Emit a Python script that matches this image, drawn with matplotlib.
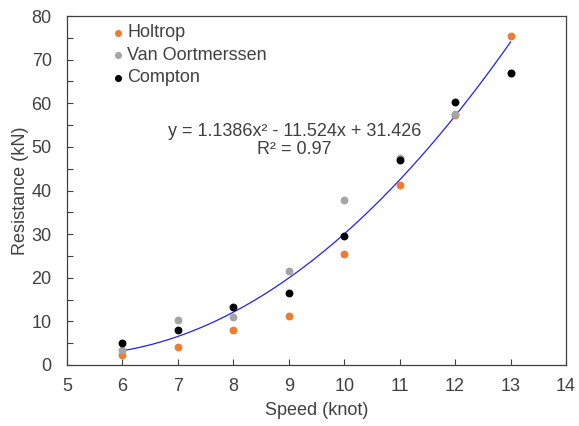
import numpy as np
import matplotlib
matplotlib.use("Agg")
import matplotlib.pyplot as plt

plt.rcParams['font.family'] = ['Liberation Sans', 'DejaVu Sans']

speed = [6, 7, 8, 9, 10, 11, 12, 13]
holtrop = [2.3, 4.1, 8.0, 11.2, 25.4, 41.3, 57.3, 75.4]
van_oortmerssen = [3.5, 10.3, 11.0, 21.5, 37.8, 47.5, 57.6, 67.0]
compton = [5.0, 8.0, 13.3, 16.5, 29.6, 47.0, 60.3, 67.0]
fit_coef = [1.1386, -11.524, 31.426]
fit_text = "y = 1.1386x² - 11.524x + 31.426\nR² = 0.97"

TXT = '#404040'
FS = 13

fig = plt.figure(figsize=(5.79, 4.26), dpi=100)
ax = fig.add_axes([0.1157, 0.1432, 0.8618, 0.8192])

ax.scatter(speed, holtrop, s=32, color='#ED7D31', label='Holtrop', zorder=3, linewidths=0)
ax.scatter(speed, van_oortmerssen, s=32, color='#A5A5A5', label='Van Oortmerssen', zorder=3, linewidths=0)
ax.scatter(speed, compton, s=32, color='#000000', label='Compton', zorder=4, linewidths=0)

xs = np.linspace(min(speed), max(speed), 200)
ax.plot(xs, np.polyval(fit_coef, xs), color='#1F1FFF', lw=0.9, zorder=2)

ax.set_xlim(5, 14)
ax.set_ylim(0, 80)
ax.set_xticks(range(5, 15))
ax.set_yticks(range(0, 81, 10))
ax.set_yticks(range(5, 80, 10), minor=True)
ax.tick_params(direction='in', which='both', labelsize=FS, length=4, width=0.8, color='#404040', labelcolor=TXT)
ax.tick_params(axis='x', pad=9.5)
ax.tick_params(axis='y', pad=11)
for s in ax.spines.values():
    s.set_color('#404040')
    s.set_linewidth(0.9)

ax.set_xlabel('Speed (knot)', fontsize=FS, color=TXT, labelpad=5)
ax.set_ylabel('Resistance (kN)', fontsize=FS, color=TXT, labelpad=1.5)

ax.text(9.10, 51.5, fit_text, ha='center', va='center', fontsize=FS, color=TXT, linespacing=1.05)

leg = ax.legend(loc='upper left', bbox_to_anchor=(0.070, 0.997), frameon=False, fontsize=FS,
                handletextpad=0.0, borderaxespad=0.0, labelspacing=0.31, handlelength=1.0,
                markerscale=0.9)
for t in leg.get_texts():
    t.set_color(TXT)

fig.savefig('out.png', dpi=100)
